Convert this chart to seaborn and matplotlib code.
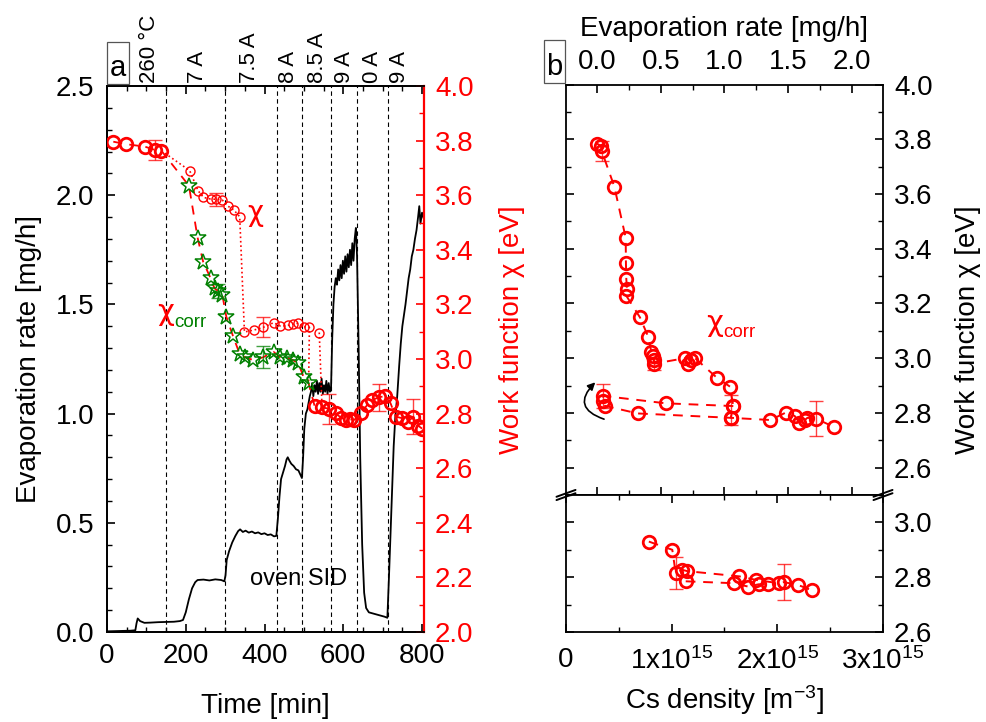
import matplotlib
matplotlib.use('Agg')
import matplotlib.pyplot as plt
import seaborn as sns
import pandas as pd
from matplotlib.ticker import MultipleLocator, FixedLocator, FixedFormatter, FormatStrFormatter
from matplotlib.patches import Rectangle, FancyArrowPatch

# ---------------- data: panel a ----------------
evap_t = [
    0, 20, 40, 60, 72, 75, 78, 84, 95, 110,
    130, 150, 170, 185, 193, 200, 208, 216, 224, 230,
    245, 260, 275, 290, 298, 301, 304, 310, 318, 326,
    333, 338, 345, 352, 360, 368, 376, 384, 392, 400,
    408, 416, 424, 430, 434, 438, 442, 447, 452, 456,
    459, 463, 468, 474, 480, 486, 491, 495, 498, 501,
    505, 509, 512, 515, 518, 521, 524, 527, 530, 533,
    536, 539, 542, 545, 548, 551, 554, 557, 560, 563,
    566, 569, 572, 575, 578, 581, 584, 587, 590, 593,
    596, 599, 602, 605, 608, 611, 614, 617, 620, 623,
    626, 629, 632, 635, 639, 643, 648, 653, 658, 665,
    675, 685, 695, 705, 712, 716, 720, 724, 728, 732,
    737, 742, 746, 750, 754, 758, 762, 766, 770, 774,
    778, 782, 786, 790, 793, 796, 800, 805]
evap_r = [
    0.003, 0.004, 0.005, 0.006, 0.008, 0.040, 0.062, 0.050, 0.042, 0.043,
    0.045, 0.046, 0.047, 0.050, 0.055, 0.090, 0.150, 0.200, 0.228, 0.238,
    0.240, 0.236, 0.241, 0.238, 0.232, 0.260, 0.330, 0.370, 0.410, 0.440,
    0.462, 0.470, 0.458, 0.464, 0.455, 0.460, 0.452, 0.456, 0.448, 0.452,
    0.444, 0.447, 0.438, 0.440, 0.520, 0.620, 0.700, 0.730, 0.760, 0.790,
    0.800, 0.785, 0.770, 0.760, 0.745, 0.740, 0.720, 0.705, 0.800, 0.930,
    1.000, 1.020, 1.050, 1.080, 1.100, 1.140, 1.080, 1.130, 1.100, 1.150,
    1.090, 1.140, 1.100, 1.160, 1.090, 1.130, 1.100, 1.150, 1.090, 1.140,
    1.100, 1.120, 1.350, 1.500, 1.580, 1.620, 1.590, 1.660, 1.610, 1.680,
    1.620, 1.700, 1.640, 1.720, 1.650, 1.730, 1.670, 1.750, 1.680, 1.780,
    1.700, 1.800, 1.850, 1.720, 1.300, 0.800, 0.400, 0.180, 0.110, 0.090,
    0.085, 0.080, 0.075, 0.070, 0.065, 0.250, 0.450, 0.650, 0.850, 0.980,
    1.080, 1.220, 1.320, 1.400, 1.450, 1.500, 1.560, 1.620, 1.660, 1.720,
    1.750, 1.800, 1.840, 1.900, 1.950, 1.870, 1.920, 1.890]

# work function, first large-circle segment
big1_t = [16, 48, 96, 121, 138]
big1_v = [3.796, 3.787, 3.778, 3.766, 3.763]
# chi (small circles)
chi_t = [210, 231, 245, 263, 278, 293, 307, 322, 337, 349,
         373, 397, 423, 440, 459, 472, 486, 500, 514, 539]
chi_v = [3.690, 3.617, 3.592, 3.586, 3.585, 3.582, 3.560, 3.546, 3.521, 3.099,
         3.106, 3.116, 3.133, 3.121, 3.123, 3.128, 3.131, 3.118, 3.116, 3.097]
# chi_corr (stars)
star_t = [208, 230, 244, 263, 273, 282, 293, 303, 320, 337,
          351, 372, 396, 423, 440, 457, 472, 486, 499, 512]
star_v = [3.635, 3.445, 3.357, 3.296, 3.259, 3.249, 3.234, 3.155, 3.084, 3.018,
          3.006, 2.996, 3.006, 3.026, 3.006, 3.005, 2.996, 2.984, 2.935, 2.911]
# work function, second large-circle segment
big2_t = [527, 546, 563, 581, 594, 607, 617, 628, 645, 660,
          674, 691, 706, 720, 733, 750, 765, 778, 791, 800]
big2_v = [2.829, 2.823, 2.818, 2.801, 2.785, 2.777, 2.779, 2.777, 2.803, 2.830,
          2.850, 2.860, 2.864, 2.838, 2.789, 2.783, 2.771, 2.789, 2.755, 2.745]
# error bars
errR_t = [121, 278, 397, 563, 691, 778]
errR_v = [3.766, 3.585, 3.116, 2.818, 2.860, 2.789]
errR_e = [0.037, 0.024, 0.037, 0.055, 0.049, 0.064]
errG_t = [282, 396]
errG_v = [3.249, 3.006]
errG_e = [0.027, 0.040]

# heating steps
step_t = [149, 300, 431, 495, 569, 635, 714]
step_lab_t = [109, 230, 362, 461, 534, 603, 673, 742]
step_lab = ['260 °C', '7 A', '7.5 A', '8 A', '8.5 A', '9 A', '0 A', '9 A']

# ---------------- data: panel b ----------------
up_rate = [0.0, 0.03, 0.037, 0.136, 0.225, 0.227, 0.23, 0.235, 0.23, 0.337,
           0.402, 0.427, 0.44, 0.445, 0.45, 0.69, 0.716, 0.737, 0.769, 0.939,
           1.043, 1.069, 1.049, 1.36, 1.48, 1.55, 1.587, 1.63, 1.65, 1.718, 1.861]
up_chi = [3.784, 3.776, 3.757, 3.627, 3.44, 3.348, 3.289, 3.253, 3.228, 3.149,
          3.078, 3.021, 3.008, 2.993, 2.98, 3.0, 2.978, 2.993, 3.0, 2.929,
          2.896, 2.825, 2.782, 2.774, 2.801, 2.789, 2.764, 2.774, 2.782, 2.779, 2.748]
loop_rate = [1.069, 0.54, 0.05, 0.045, 0.06, 0.319, 1.049]
loop_chi = [2.825, 2.835, 2.862, 2.845, 2.826, 2.798, 2.782]
upE_rate = [0.037, 0.45, 1.049, 1.718, 0.05]
upE_chi = [3.757, 2.98, 2.81, 2.779, 2.862]
upE_e = [0.037, 0.025, 0.056, 0.064, 0.045]

lo_d = [0.784e15, 1.006e15, 1.038e15, 1.10e15, 1.149e15, 1.641e15, 1.80e15,
        2.013e15, 2.06e15, 2.193e15, 2.33e15]
lo_chi = [2.93, 2.90, 2.815, 2.827, 2.822, 2.803, 2.79, 2.778, 2.782, 2.772, 2.752]
lo2_d = [1.133e15, 1.59e15, 1.721e15, 1.822e15, 1.908e15]
lo2_chi = [2.785, 2.778, 2.766, 2.774, 2.776]
loE_d = [1.038e15, 2.06e15]
loE_chi = [2.815, 2.783]
loE_e = [0.058, 0.065]

dens_ticks = [0, 1e15, 2e15, 3e15]
dens_labels = ['0', '1x10$^{15}$', '2x10$^{15}$', '3x10$^{15}$']

# ---------------- style ----------------
sns.set_style('ticks')
plt.rcParams['font.family'] = ['Liberation Sans', 'DejaVu Sans']
plt.rcParams['mathtext.fontset'] = 'custom'
plt.rcParams['mathtext.rm'] = 'Liberation Sans'
plt.rcParams['mathtext.it'] = 'Liberation Sans:italic'
plt.rcParams['font.size'] = 20
plt.rcParams['axes.linewidth'] = 1.3
for k in ['text.color', 'axes.labelcolor', 'xtick.color', 'ytick.color', 'axes.edgecolor']:
    plt.rcParams[k] = 'black'

RED = '#ff0000'
GREEN = '#008000'
CHI_FONT = ['DejaVu Sans']

fig = plt.figure(figsize=(9.87, 7.22), dpi=100)
W, H = 987.0, 722.0


def series(ax, x, y, color, ls, marker=None, ms=0, mew=0, lw=1.4, dashes=None, z=3):
    kw = dict(x=list(x), y=list(y), ax=ax, color=color, sort=False,
              estimator=None, legend=False, lw=lw, zorder=z)
    if marker is not None:
        kw.update(marker=marker, markersize=ms, markerfacecolor='none',
                  markeredgecolor=color, markeredgewidth=mew)
    kw['linestyle'] = ls
    sns.lineplot(**kw)
    if dashes is not None:
        ax.lines[-1].set_dashes(dashes)


# ---------------- panel a ----------------
ax = fig.add_axes([107 / W, 1 - 632 / H, 317 / W, 546 / H])
ax2 = ax.twinx()

for t in step_t:
    ax.axvline(t, color='black', lw=0.8, ls=(0, (4, 3)), zorder=1)

evap = pd.DataFrame({'t': evap_t, 'r': evap_r})
sns.lineplot(data=evap, x='t', y='r', ax=ax, color='black', lw=1.3,
             sort=False, estimator=None, legend=False, zorder=2)

ax.set_xlim(0, 805)
ax.set_ylim(0, 2.5)
ax2.set_ylim(2.0, 4.0)

# chi_corr dashed path: big1 -> stars -> big2
corr_t = big1_t + star_t + big2_t
corr_v = big1_v + star_v + big2_v
series(ax2, corr_t, corr_v, RED, '--', lw=1.3, dashes=(5, 4))
# chi dotted path
series(ax2, big1_t[-1:] + chi_t[:-1] + star_t[-1:], big1_v[-1:] + chi_v[:-1] + star_v[-1:],
       RED, ':', lw=1.2)
series(ax2, chi_t[-1:] + big2_t[1:2], chi_v[-1:] + big2_v[1:2], RED, ':', lw=1.2)

# markers
series(ax2, chi_t, chi_v, RED, 'none', marker='o', ms=6.5, mew=1.0, z=4)
series(ax2, star_t, star_v, GREEN, 'none', marker='*', ms=12, mew=1.1, z=4)
series(ax2, big1_t, big1_v, RED, 'none', marker='o', ms=9, mew=2.0, z=5)
series(ax2, big2_t, big2_v, RED, 'none', marker='o', ms=9, mew=2.0, z=5)
ax2.errorbar(errR_t, errR_v, yerr=errR_e, fmt='none', ecolor=RED, elinewidth=1.0,
             capsize=5, capthick=1.0, zorder=4, alpha=0.75)
ax2.errorbar(errG_t, errG_v, yerr=errG_e, fmt='none', ecolor=GREEN, elinewidth=1.0,
             capsize=5, capthick=1.0, zorder=4, alpha=0.75)

ax.xaxis.set_major_locator(MultipleLocator(200))
ax.xaxis.set_minor_locator(MultipleLocator(50))
ax.yaxis.set_major_locator(MultipleLocator(0.5))
ax.yaxis.set_minor_locator(MultipleLocator(0.1))
ax.yaxis.set_major_formatter(FormatStrFormatter('%.1f'))
ax2.yaxis.set_major_locator(MultipleLocator(0.2))
ax2.yaxis.set_minor_locator(MultipleLocator(0.1))
ax2.yaxis.set_major_formatter(FormatStrFormatter('%.1f'))

ax.tick_params(axis='x', which='both', direction='in', top=True, bottom=True, pad=8)
ax.tick_params(axis='y', which='both', direction='in', left=True, right=False, pad=9)
ax.tick_params(which='major', length=6, width=1.2)
ax.tick_params(which='minor', length=3.5, width=1.0)
ax2.tick_params(axis='y', which='both', direction='in', colors=RED, pad=8)
ax2.tick_params(which='major', length=6, width=1.2)
ax2.tick_params(which='minor', length=3.5, width=1.0)
ax2.spines['right'].set_color(RED)
ax2.spines['right'].set_linewidth(1.6)
ax.spines['right'].set_visible(False)

ax.set_xlabel('Time [min]')
ax.xaxis.set_label_coords(0.5, -0.112)
ax.set_ylabel('Evaporation rate [mg/h]')
ax.yaxis.set_label_coords(-0.205, 0.5)
ax2.set_ylabel('Work function χ [eV]', color=RED)
ax2.yaxis.set_label_coords(1.237, 0.553)

for t, lab in zip(step_lab_t, step_lab):
    ax.text(t, 1.006, lab, transform=ax.get_xaxis_transform(), rotation=90,
            ha='center', va='bottom', fontsize=16)

ax2.text(376, 3.535, 'χ', color=RED, fontsize=20, ha='center', va='center', family=CHI_FONT)
ax2.text(149, 3.172, 'χ', color=RED, fontsize=21, ha='center', va='center', family=CHI_FONT)
ax2.text(170, 3.117, 'corr', color=GREEN, fontsize=13.5, ha='left', va='baseline')
ax.text(486, 0.215, 'oven SID', fontsize=17, ha='center', va='baseline')

# ---------------- panel b ----------------
ax_u = fig.add_axes([566 / W, 1 - 495 / H, 317 / W, 410.5 / H])
ax_l = fig.add_axes([566 / W, 1 - 632 / H, 317 / W, 137 / H])

series(ax_u, up_rate, up_chi, RED, '--', lw=1.4, dashes=(5, 4))
series(ax_u, loop_rate, loop_chi, RED, '--', lw=1.4, dashes=(5, 4))
series(ax_u, up_rate, up_chi, RED, 'none', marker='o', ms=9, mew=2.0, z=5)
series(ax_u, loop_rate, loop_chi, RED, 'none', marker='o', ms=9, mew=2.0, z=5)
ax_u.errorbar(upE_rate, upE_chi, yerr=upE_e, fmt='none', ecolor=RED, elinewidth=1.0,
              capsize=5, capthick=1.0, zorder=4, alpha=0.75)

series(ax_l, lo_d, lo_chi, RED, '--', lw=1.4, dashes=(5, 4))
series(ax_l, lo2_d, lo2_chi, RED, '--', lw=1.4, dashes=(5, 4))
series(ax_l, lo_d, lo_chi, RED, 'none', marker='o', ms=9, mew=2.0, z=5)
series(ax_l, lo2_d, lo2_chi, RED, 'none', marker='o', ms=9, mew=2.0, z=5)
ax_l.errorbar(loE_d, loE_chi, yerr=loE_e, fmt='none', ecolor=RED, elinewidth=1.0,
              capsize=5, capthick=1.0, zorder=4, alpha=0.75)

ax_u.set_xlim(-0.243, 2.243)
ax_u.set_ylim(2.5, 4.0)
ax_l.set_xlim(0, 3e15)
ax_l.set_ylim(2.6, 3.1)

ax_u.xaxis.set_major_locator(MultipleLocator(0.5))
ax_u.xaxis.set_minor_locator(MultipleLocator(0.25))
ax_u.xaxis.set_major_formatter(FormatStrFormatter('%.1f'))
ax_u.yaxis.set_major_locator(MultipleLocator(0.2))
ax_u.yaxis.set_minor_locator(MultipleLocator(0.1))
ax_u.yaxis.set_major_formatter(FormatStrFormatter('%.1f'))
ax_u.xaxis.tick_top()
ax_u.xaxis.set_label_position('top')
ax_u.yaxis.tick_right()
ax_u.yaxis.set_label_position('right')
ax_u.tick_params(axis='x', which='both', direction='in', top=True, bottom=True,
                 labeltop=True, labelbottom=False, pad=7)
ax_u.tick_params(axis='y', which='both', direction='in', left=True, right=True,
                 labelleft=False, labelright=True, pad=8)
ax_u.tick_params(which='major', length=6, width=1.2)
ax_u.tick_params(which='minor', length=3.5, width=1.0)
ax_u.set_xlabel('Evaporation rate [mg/h]')
ax_u.xaxis.set_label_coords(0.5, 1.118)
ax_u.set_ylabel('Work function χ [eV]')
ax_u.yaxis.set_label_coords(1.227, 0.402)

ax_l.xaxis.set_major_locator(FixedLocator(dens_ticks))
ax_l.xaxis.set_major_formatter(FixedFormatter(dens_labels))
ax_l.xaxis.set_minor_locator(MultipleLocator(0.5e15))
ax_l.yaxis.set_major_locator(MultipleLocator(0.2))
ax_l.yaxis.set_minor_locator(MultipleLocator(0.1))
ax_l.yaxis.set_major_formatter(FormatStrFormatter('%.1f'))
ax_l.yaxis.tick_right()
ax_l.tick_params(axis='x', which='both', direction='in', top=True, bottom=True,
                 labeltop=False, labelbottom=True, pad=11)
ax_l.tick_params(axis='y', which='both', direction='in', left=True, right=True,
                 labelleft=False, labelright=True, pad=8)
ax_l.tick_params(which='major', length=6, width=1.2)
ax_l.tick_params(which='minor', length=3.5, width=1.0)
ax_l.set_xlabel('Cs density [m$^{-3}$]')
ax_l.xaxis.set_label_coords(0.5, -0.372)

# axis-break marks
for xa in (0.0, 1.0):
    for dy in (-0.012, 0.012):
        ax_l.plot([xa - 0.03, xa + 0.03], [1 + dy - 0.025, 1 + dy + 0.025],
                  transform=ax_l.transAxes, color='black', lw=1.4, clip_on=False, zorder=10)

# curved arrow for the loop direction
arr = FancyArrowPatch((0.076, 2.774), (0.002, 2.919), connectionstyle='arc3,rad=-0.85',
                      arrowstyle='-|>', mutation_scale=11, lw=1.2, color='black', zorder=6)
ax_u.add_patch(arr)

ax_u.text(0.925, 3.129, 'χ', color=RED, fontsize=21, ha='center', va='center', family=CHI_FONT)
ax_u.text(0.988, 3.078, 'corr', color=RED, fontsize=13.5, ha='left', va='baseline')

# panel letters
for (x0, y0, w, h, lab) in [(107, 42, 22, 42, 'a'), (544, 40, 21, 43, 'b')]:
    fig.patches.append(Rectangle((x0 / W, 1 - (y0 + h) / H), w / W, h / H,
                                 transform=fig.transFigure, fill=False,
                                 edgecolor='#555555', lw=0.9))
    fig.text((x0 + w / 2) / W, 1 - (y0 + h - 8) / H, lab, ha='center', va='baseline',
             fontsize=21)

fig.savefig('out.png', dpi=100)
